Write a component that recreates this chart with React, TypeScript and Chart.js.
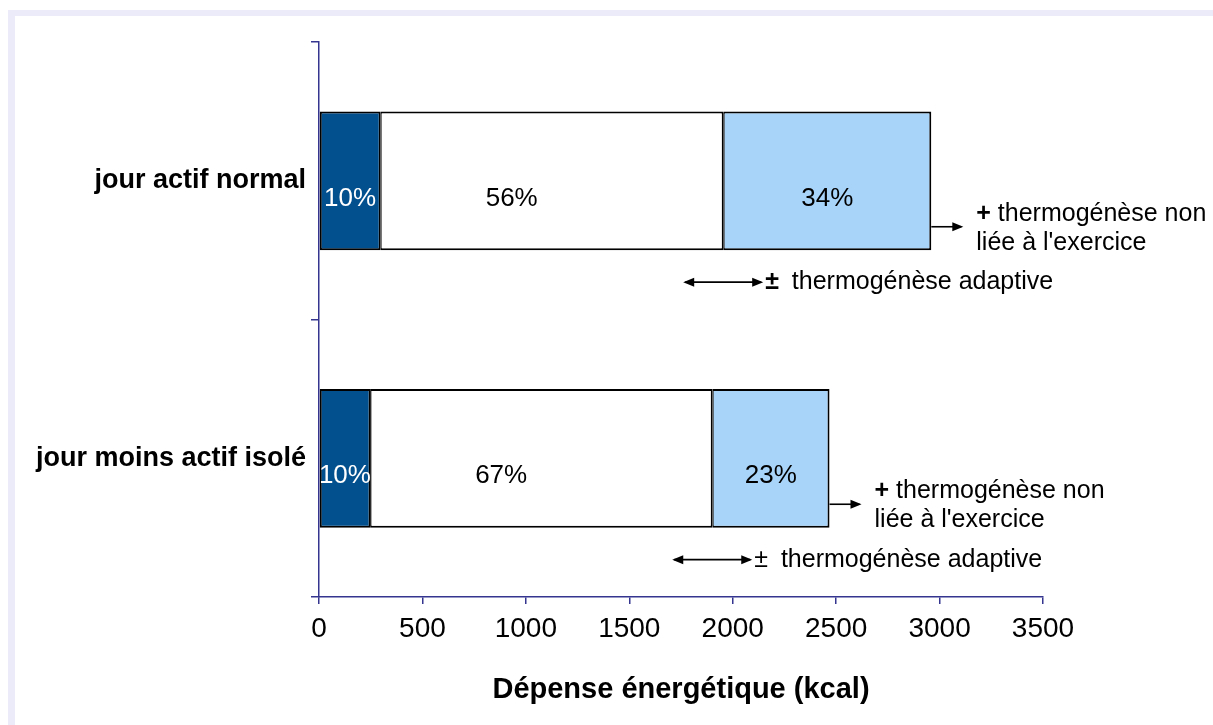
import React, { useEffect, useRef } from "react";
import { Chart, registerables } from "chart.js";

Chart.register(...registerables);

const categories = ["jour actif normal", "jour moins actif isolé"];
const baseValues = [296, 247];
const middleValues = [1658, 1654];
const extraValues = [1006, 567];
const basePct = ["10%", "10%"];
const middlePct = ["56%", "67%"];
const extraPct = ["34%", "23%"];
const xMin = 0;
const xMax = 3500;
const xStep = 500;
const axisTitle = "Dépense énergétique (kcal)";
const noteNonExercise = ["thermogénèse non", "liée à l'exercice"];
const noteAdaptive = "thermogénèse adaptive";

const FONT = "'Liberation Sans', Arial, Helvetica, sans-serif";
const NAVY = "#35358f";

function arrowHead(ctx: CanvasRenderingContext2D, x: number, y: number, dir: number) {
  ctx.beginPath();
  ctx.moveTo(x, y);
  ctx.lineTo(x - dir * 11, y - 4.5);
  ctx.lineTo(x - dir * 11, y + 4.5);
  ctx.closePath();
  ctx.fill();
}

const labelPlugin = {
  id: "segLabels",
  afterDatasetsDraw(chart: any) {
    const ctx = chart.ctx as CanvasRenderingContext2D;
    const labelSets = [basePct, middlePct, extraPct];
    const shifts = [0, -40, 0];
    ctx.save();
    ctx.font = `26px ${FONT}`;
    ctx.textAlign = "center";
    ctx.textBaseline = "middle";
    labelSets.forEach((labels, i) => {
      const meta = chart.getDatasetMeta(i);
      meta.data.forEach((el: any, j: number) => {
        const cx = (el.x + el.base) / 2 + shifts[i];
        ctx.fillStyle = i === 0 ? "#ffffff" : "#000000";
        ctx.fillText(labels[j], cx, el.y + 18);
      });
    });

    // annotations
    const xs = chart.scales.x;
    ctx.fillStyle = "#000";
    ctx.strokeStyle = "#000";
    ctx.lineWidth = 1.6;
    categories.forEach((_, j) => {
      const el = chart.getDatasetMeta(2).data[j] as any;
      const total = baseValues[j] + middleValues[j] + extraValues[j];
      const endX = xs.getPixelForValue(total);
      const ay = el.y + 46;
      ctx.beginPath();
      ctx.moveTo(endX, ay);
      ctx.lineTo(endX + 30, ay);
      ctx.stroke();
      arrowHead(ctx, endX + 32, ay, 1);
      ctx.textAlign = "left";
      ctx.textBaseline = "middle";
      ctx.font = `bold 25px ${FONT}`;
      ctx.fillText("+", endX + 45, ay - 13);
      const plusW = ctx.measureText("+ ").width;
      ctx.font = `25px ${FONT}`;
      ctx.fillText(noteNonExercise[0], endX + 45 + plusW, ay - 13);
      ctx.fillText(noteNonExercise[1], endX + 45, ay + 16);

      const bx = xs.getPixelForValue(baseValues[j] + middleValues[j]);
      const by = el.y + el.height / 2 + 32;
      ctx.beginPath();
      ctx.moveTo(bx - 38, by);
      ctx.lineTo(bx + 38, by);
      ctx.stroke();
      arrowHead(ctx, bx - 40, by, -1);
      arrowHead(ctx, bx + 40, by, 1);
      ctx.font = `${j === 0 ? "bold " : ""}25px ${FONT}`;
      ctx.fillText("±", bx + 42, by);
      const pmW = ctx.measureText("± ").width;
      ctx.font = `25px ${FONT}`;
      ctx.fillText(noteAdaptive, bx + 42 + pmW + 6, by);
    });
    ctx.restore();
  },
};

export default function App() {
  const ref = useRef<HTMLCanvasElement | null>(null);
  useEffect(() => {
    if (!ref.current) return;
    const common = { borderColor: "#000000", borderSkipped: false as const, barPercentage: 0.5, categoryPercentage: 1 };
    const chart = new Chart(ref.current, {
      type: "bar",
      data: {
        labels: categories,
        datasets: [
          { label: "base", data: baseValues, backgroundColor: "#03508f", borderWidth: { left: 2, right: 1.5, top: 2, bottom: 2 }, ...common },
          { label: "middle", data: middleValues, backgroundColor: "#ffffff", borderWidth: { left: 1.5, right: 1.5, top: 2, bottom: 2 }, ...common },
          { label: "extra", data: extraValues, backgroundColor: "#a8d4fa", borderWidth: { left: 1.5, right: 2, top: 2, bottom: 2 }, ...common },
        ],
      },
      options: {
        indexAxis: "y",
        responsive: false,
        animation: false,
        layout: { padding: { top: 42, right: 170, left: 0, bottom: 0 } },
        plugins: { legend: { display: false }, tooltip: { enabled: false } },
        scales: {
          x: {
            stacked: true,
            min: xMin,
            max: xMax,
            ticks: {
              stepSize: xStep,
              color: "#000",
              font: { family: FONT, size: 28 },
              padding: 8,
              callback: (v: any) => String(v),
            },
            grid: { drawOnChartArea: false, tickLength: 7, color: NAVY, lineWidth: 1.5 },
            border: { color: NAVY, width: 1.5 },
            title: {
              display: true,
              text: axisTitle,
              color: "#000",
              font: { family: FONT, size: 29, weight: "bold" },
              padding: { top: 0, bottom: 18 },
            },
            afterFit: (s: any) => { s.height = 128; },
          },
          y: {
            stacked: true,
            offset: true,
            ticks: { color: "#000", font: { family: FONT, size: 27, weight: "bold" }, padding: 5 },
            grid: { offset: true, drawOnChartArea: false, tickLength: 8, color: NAVY, lineWidth: 1.5 },
            border: { color: NAVY, width: 1.5 },
            afterFit: (s: any) => { s.width = 319; },
          },
        },
      },
      plugins: [labelPlugin],
    } as any);
    return () => chart.destroy();
  }, []);

  return (
    <div style={{ position: "fixed", left: 0, top: 0, width: 1213, height: 725, background: "#fff" }}>
      <div
        style={{
          position: "absolute",
          left: 8,
          top: 10,
          width: 1205,
          height: 715,
          borderLeft: "7px solid #ebebfa",
          borderTop: "6px solid #ebebfa",
          boxSizing: "border-box",
        }}
      />
      <canvas ref={ref} width={1213} height={725} style={{ position: "absolute", left: 0, top: 0 }} />
    </div>
  );
}
